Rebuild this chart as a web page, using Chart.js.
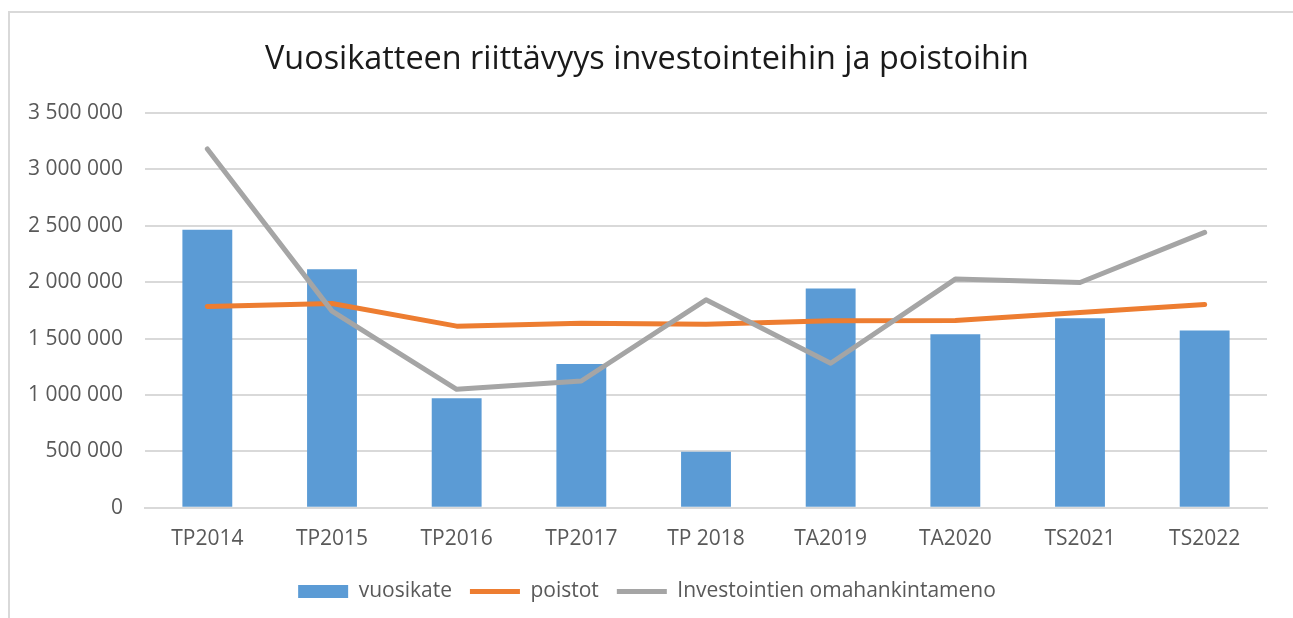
<!DOCTYPE html>
<html lang="fi">
<head>
<meta charset="UTF-8">
<title>Vuosikatteen riittävyys investointeihin ja poistoihin</title>
<script src="https://cdn.jsdelivr.net/npm/chart.js"></script>
<style>
  html, body { margin: 0; padding: 0; background: #fff; }
  #wrap { width: 1293px; height: 618px; }
</style>
</head>
<body>
<div id="wrap"><canvas id="chart" width="1293" height="618"></canvas></div>
<script>
const years = ['TP2014', 'TP2015', 'TP2016', 'TP2017', 'TP 2018', 'TA2019', 'TA2020', 'TS2021', 'TS2022'];
const vuosikate = [2465000, 2115000, 970000, 1275000, 497000, 1944000, 1538000, 1681000, 1571000];
const poistot = [1784000, 1810000, 1610000, 1636000, 1627000, 1657000, 1660000, 1731000, 1802000];
const investoinnit = [3180000, 1743000, 1050000, 1124000, 1843000, 1281000, 2027000, 1997000, 2441000];

const textColor = '#595959';
const gridColor = '#d9d9d9';
const fontFamily = '"Open Sans", "DejaVu Sans", sans-serif';

// thin grey frame round the chart (top and left edges only are visible)
const frame = {
  id: 'frame',
  beforeDraw(chart) {
    const c = chart.ctx;
    c.save();
    c.fillStyle = '#fff';
    c.fillRect(0, 0, chart.width, chart.height);
    c.strokeStyle = gridColor;
    c.lineWidth = 2;
    c.beginPath();
    c.moveTo(9, chart.height);
    c.lineTo(9, 12);
    c.lineTo(chart.width, 12);
    c.stroke();
    c.restore();
  }
};

function fmt(v) {
  return String(v).replace(/\B(?=(\d{3})+(?!\d))/g, ' ');
}

new Chart(document.getElementById('chart'), {
  type: 'bar',
  data: {
    labels: years,
    datasets: [
      {
        label: 'vuosikate',
        data: vuosikate,
        backgroundColor: '#5b9bd5',
        borderWidth: 0,
        categoryPercentage: 1,
        barPercentage: 0.4,
        pointStyle: 'rect',
        order: 3
      },
      {
        type: 'line',
        label: 'poistot',
        data: poistot,
        borderColor: '#ed7d31',
        backgroundColor: '#ed7d31',
        borderWidth: 5,
        borderCapStyle: 'round',
        borderJoinStyle: 'round',
        pointRadius: 0,
        pointHoverRadius: 0,
        pointStyle: 'line',
        tension: 0,
        order: 2
      },
      {
        type: 'line',
        label: 'Investointien omahankintameno',
        data: investoinnit,
        borderColor: '#a5a5a5',
        backgroundColor: '#a5a5a5',
        borderWidth: 5,
        borderCapStyle: 'round',
        borderJoinStyle: 'round',
        pointRadius: 0,
        pointHoverRadius: 0,
        pointStyle: 'line',
        tension: 0,
        order: 1
      }
    ]
  },
  options: {
    responsive: false,
    animation: false,
    layout: { padding: { left: 27, right: 26, top: 10, bottom: 6 } },
    plugins: {
      title: {
        display: true,
        text: 'Vuosikatteen riittävyys investointeihin ja poistoihin',
        color: '#1a1a1a',
        font: { family: fontFamily, size: 32.4, weight: 'normal' },
        padding: { top: 30, bottom: 34 }
      },
      legend: {
        position: 'bottom',
        labels: {
          usePointStyle: true,
          pointStyleWidth: 50,
          boxHeight: 13,
          color: textColor,
          font: { family: fontFamily, size: 21 },
          padding: 18,
          sort: (a, b) => a.datasetIndex - b.datasetIndex
        }
      },
      tooltip: { enabled: false }
    },
    scales: {
      x: {
        grid: { display: false },
        border: { display: true, color: gridColor, width: 2 },
        ticks: { color: textColor, font: { family: fontFamily, size: 21 }, padding: 11 }
      },
      y: {
        min: 0,
        max: 3500000,
        ticks: {
          stepSize: 500000,
          color: textColor,
          font: { family: fontFamily, size: 21 },
          padding: 22,
          callback: v => fmt(v)
        },
        grid: { color: gridColor, lineWidth: 2, drawTicks: false },
        border: { display: false },
        afterFit(scale) { scale.width = 118; }
      }
    }
  },
  plugins: [frame]
});
</script>
</body>
</html>
